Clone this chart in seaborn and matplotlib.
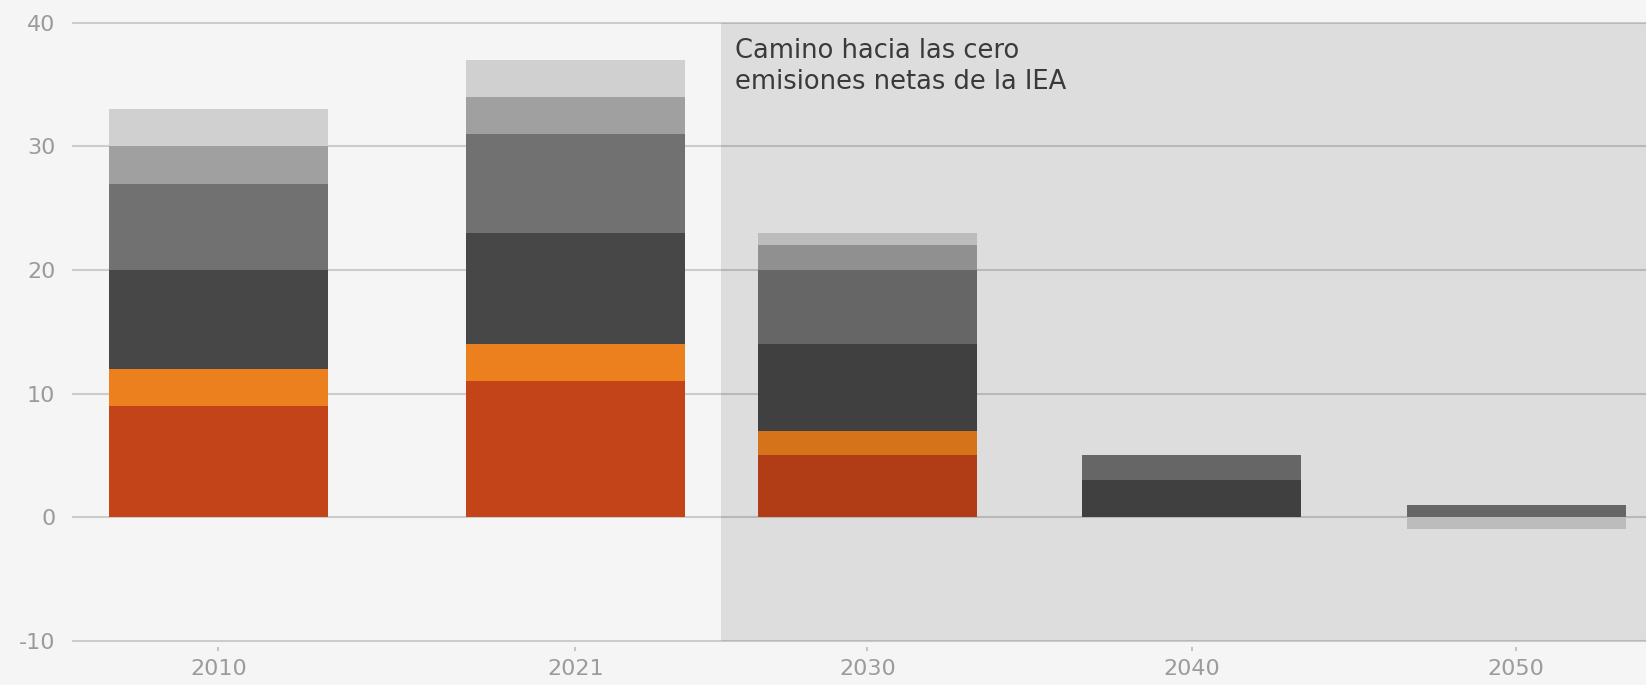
import matplotlib
matplotlib.use("Agg")
import matplotlib.pyplot as plt
from matplotlib.patches import Rectangle
import numpy as np
import pandas as pd
import seaborn as sns

# Years on the x axis (numeric, so bars sit on a true time scale)
years = [2010, 2021, 2030, 2040, 2050]

# Stacked components, bottom to top
capa_1 = [9, 11, 5, 0, 0]
capa_2 = [3, 3, 2, 0, 0]
capa_3 = [8, 9, 7, 3, 0]
capa_4 = [7, 8, 6, 2, 1]
capa_5 = [3, 3, 2, 0, 0]
capa_6 = [3, 3, 1, 0, -1]

y_ticks = [-10, 0, 10, 20, 30, 40]
x_labels = ["2010", "2021", "2030", "2040", "2050"]
annotation = "Camino hacia las cero\nemisiones netas de la IEA"

layers = [
    (capa_1, "#c4441a"),
    (capa_2, "#ec7f1e"),
    (capa_3, "#474747"),
    (capa_4, "#717171"),
    (capa_5, "#a0a0a0"),
    (capa_6, "#d0d0d0"),
]

sns.set_theme(style="white")
plt.rcParams["font.family"] = ["DejaVu Sans"]

bg = "#f5f5f5"
fig = plt.figure(figsize=(16.46, 6.85), dpi=100, facecolor=bg)
ax = fig.add_axes([0.04374, 0.0559, 0.95626, 0.9196])
ax.set_facecolor(bg)

pos_base = np.zeros(len(years))
neg_base = np.zeros(len(years))
for vals, color in layers:
    v = np.asarray(vals, dtype=float)
    bottom = np.where(v >= 0, pos_base, neg_base)
    df = pd.DataFrame({"year": years, "value": v})
    sns.barplot(data=df, x="year", y="value", native_scale=True, width=0.75,
                color=color, saturation=1, errorbar=None, bottom=bottom,
                linewidth=0, ax=ax, zorder=2)
    pos_base += np.clip(v, 0, None)
    neg_base += np.clip(v, None, 0)

ax.set_xlim(2005.49, 2054.0)
ax.set_ylim(-10.5, 40.5)

# Scenario band shading everything from 2025.5 onward
ax.add_patch(Rectangle((2025.5, -10), 40, 50, facecolor="black", alpha=0.094,
                       linewidth=0, zorder=3))

ax.set_yticks(y_ticks)
ax.set_yticklabels([str(t) for t in y_ticks])
ax.set_xticks(years)
ax.set_xticklabels(x_labels)
ax.set_xlabel("")
ax.set_ylabel("")

for s in ax.spines.values():
    s.set_visible(False)

ax.set_axisbelow(True)
ax.yaxis.grid(True, color="#cccccc", linewidth=1.5)
ax.xaxis.grid(False)

ax.tick_params(axis="y", length=0, pad=12, labelsize=16, labelcolor="#9b9b9b")
ax.tick_params(axis="x", length=3, width=1.2, color="#bbbbbb", direction="out",
               pad=6, labelsize=16, labelcolor="#9b9b9b", bottom=True)

ax.text(2025.93, 38.8, annotation, ha="left", va="top", fontsize=18.5,
        color="#3a3a3a", linespacing=1.25, zorder=4)

fig.savefig("out.png", dpi=100, facecolor=bg)
